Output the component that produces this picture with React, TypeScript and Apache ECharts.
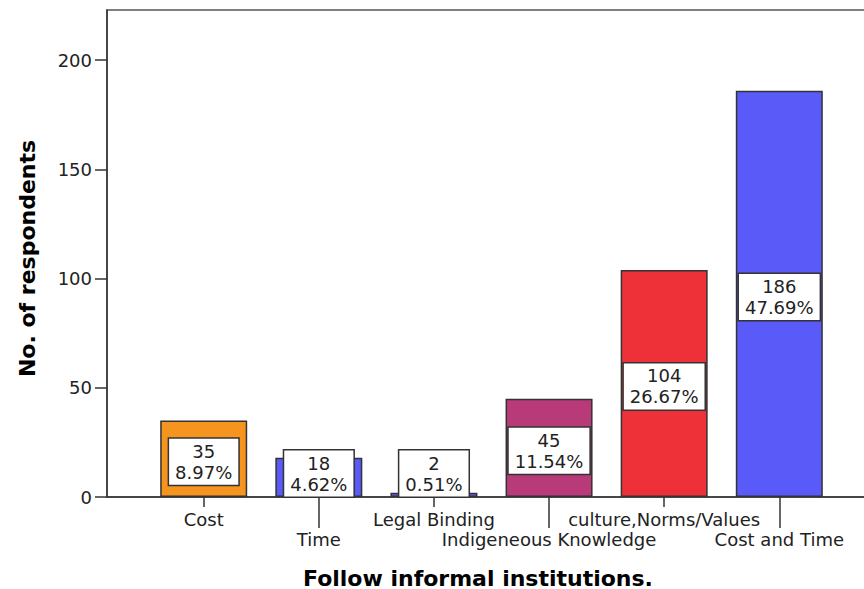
import React, { useEffect, useRef } from "react";
import * as echarts from "echarts";

// Responses per reason for following informal institutions
const categories = [
  "Cost",
  "Time",
  "Legal Binding",
  "Indigeneous Knowledge",
  "culture,Norms/Values",
  "Cost and Time",
];
const counts = [35, 18, 2, 45, 104, 186];
const barColors = ["#F5951F", "#5A5AF8", "#5A5AF8", "#B83A78", "#EE3138", "#5A5AF8"];
const yTicks = [0, 50, 100, 150, 200];

const FONT = "DejaVu Sans";
const AXIS_COLOR = "#333";

export default function App() {
  const ref = useRef<HTMLDivElement>(null);

  useEffect(() => {
    if (!ref.current) return;
    const chart = echarts.init(ref.current, null, { renderer: "svg" });

    const total = counts.reduce((a, b) => a + b, 0);
    const gridTop = 10;
    const gridHeight = 487;
    const yMax = 223;
    const pxPerUnit = gridHeight / yMax;
    const boxHalf = 23.5; // half the height of a value box

    // Value boxes sit in the middle of each bar; short bars push them up to the baseline.
    const seriesData = counts.map((v, i) => {
      const halfBar = (v * pxPerUnit) / 2;
      let dy = 3;
      if (halfBar + dy < boxHalf) dy = -(boxHalf - halfBar);
      return {
        value: [i, v],
        itemStyle: { color: barColors[i] },
        label: { offset: [0, dy] },
      };
    });

    const evenIdx = categories.map((_, i) => i).filter((i) => i % 2 === 0);
    const oddIdx = categories.map((_, i) => i).filter((i) => i % 2 === 1);
    const catName = (v: number) => categories[Math.round(v)] ?? "";

    const xBase = {
      type: "value" as const,
      min: -0.84,
      max: 5.84,
      position: "bottom" as const,
      splitLine: { show: false },
    };

    chart.setOption({
      animation: false,
      grid: {
        left: 107,
        top: gridTop,
        width: 769,
        height: gridHeight,
        show: true,
        borderColor: "#555",
        borderWidth: 1.5,
        backgroundColor: "transparent",
      },
      xAxis: [
        {
          ...xBase,
          axisLine: { show: true, onZero: false, lineStyle: { color: AXIS_COLOR, width: 1.5 } },
          axisTick: {
            show: true,
            length: 10,
            customValues: evenIdx,
            lineStyle: { color: AXIS_COLOR, width: 1.5 },
          },
          axisLabel: {
            customValues: evenIdx,
            formatter: catName,
            margin: 13,
            fontFamily: FONT,
            fontSize: 18,
            color: "#222",
          },
        },
        {
          ...xBase,
          axisLine: { show: false, onZero: false },
          axisTick: {
            show: true,
            length: 31,
            customValues: oddIdx,
            lineStyle: { color: AXIS_COLOR, width: 1.5 },
          },
          axisLabel: {
            customValues: oddIdx,
            formatter: catName,
            margin: 33,
            fontFamily: FONT,
            fontSize: 18,
            color: "#222",
          },
        },
      ],
      yAxis: {
        type: "value",
        min: 0,
        max: yMax,
        name: "No. of respondents",
        nameLocation: "middle",
        nameRotate: 90,
        nameGap: 69,
        nameTextStyle: {
          fontFamily: FONT,
          fontWeight: "bold",
          fontSize: 22,
          color: "#000",
          padding: [0, 10, 0, 0],
        },
        splitLine: { show: false },
        axisLine: { show: true, onZero: false, lineStyle: { color: AXIS_COLOR, width: 1.5 } },
        axisTick: {
          show: true,
          length: 12,
          customValues: yTicks,
          lineStyle: { color: AXIS_COLOR, width: 1.5 },
        },
        axisLabel: {
          customValues: yTicks,
          margin: 15,
          fontFamily: FONT,
          fontSize: 18,
          color: "#222",
        },
      },
      graphic: [
        {
          type: "text",
          x: 478,
          y: 578,
          style: {
            text: "Follow informal institutions.",
            fontFamily: FONT,
            fontWeight: "bold",
            fontSize: 22,
            fill: "#000",
            textAlign: "center",
            textVerticalAlign: "middle",
          },
        },
      ],
      series: [
        {
          type: "bar",
          xAxisIndex: 0,
          yAxisIndex: 0,
          barWidth: 87,
          data: seriesData,
          itemStyle: { borderColor: "#333", borderWidth: 1.5 },
          label: {
            show: true,
            position: "inside",
            formatter: (p: any) =>
              `${p.value[1]}\n${((p.value[1] / total) * 100).toFixed(2)}%`,
            fontFamily: FONT,
            fontSize: 18,
            lineHeight: 21,
            color: "#222",
            backgroundColor: "#fff",
            borderColor: "#333",
            borderWidth: 1.5,
            padding: [2, 6, 2, 6],
          },
        },
      ],
    });

    return () => chart.dispose();
  }, []);

  // The chart surface is a little wider than the view so the plot frame runs past the right edge.
  return (
    <div
      style={{
        position: "fixed",
        left: 0,
        top: 0,
        width: 864,
        height: 589,
        overflow: "hidden",
        background: "#fff",
      }}
    >
      <div ref={ref} style={{ width: 900, height: 589 }} />
    </div>
  );
}
